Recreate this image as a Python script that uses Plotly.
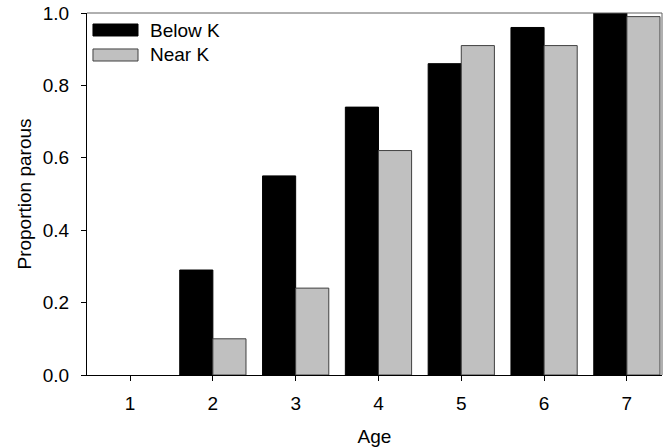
import plotly.graph_objects as go

ages = [1, 2, 3, 4, 5, 6, 7]
below_k = [0.0, 0.29, 0.55, 0.74, 0.86, 0.96, 1.0]
near_k = [0.0, 0.10, 0.24, 0.62, 0.91, 0.91, 0.99]
series_names = ["Below K", "Near K"]
y_ticks = [0.0, 0.2, 0.4, 0.6, 0.8, 1.0]

FONT = "Liberation Sans, Arial, sans-serif"
FS = 19

fig = go.Figure()
fig.add_trace(go.Bar(x=ages, y=below_k, name=series_names[0],
                     marker=dict(color="#000000",
                                 line=dict(color="#000000", width=[0 if v == 0 else 1 for v in below_k])),
                     showlegend=False))
fig.add_trace(go.Bar(x=ages, y=near_k, name=series_names[1],
                     marker=dict(color="#c0c0c0",
                                 line=dict(color="#404040", width=[0 if v == 0 else 1 for v in near_k])),
                     showlegend=False))

# manual legend (wide swatches)
swatches = [("#000000", "#000000", 0.9365, 0.9696, 0.953),
            ("#c0c0c0", "#404040", 0.8674, 0.9006, 0.884)]
for name, (fill, line, y0, y1, yc) in zip(series_names, swatches):
    fig.add_shape(type="rect", xref="paper", yref="paper",
                  x0=0.0104, x1=0.0887, y0=y0, y1=y1,
                  fillcolor=fill, line=dict(color=line, width=1))
    fig.add_annotation(xref="paper", yref="paper", x=0.1061, y=yc,
                       text=name, showarrow=False, xanchor="left", yanchor="middle",
                       font=dict(family=FONT, size=FS, color="#000000"))

# top and right frame lines (grey)
fig.add_shape(type="line", xref="paper", yref="paper", x0=0, x1=1, y0=1, y1=1,
              line=dict(color="#606060", width=1))
fig.add_shape(type="line", xref="paper", yref="paper", x0=1, x1=1, y0=0, y1=1,
              line=dict(color="#606060", width=1))

fig.update_layout(
    width=672, height=448,
    margin=dict(l=87, r=10, t=13, b=73),
    paper_bgcolor="white", plot_bgcolor="white",
    barmode="group", bargap=0.2, bargroupgap=0,
    font=dict(family=FONT, size=FS, color="#000000"),
    showlegend=False,
)
fig.update_xaxes(
    range=[0.48, 7.424], tickmode="array", tickvals=ages, ticktext=[str(a) for a in ages],
    ticks="outside", ticklen=5, tickcolor="#000000", ticklabelstandoff=6,
    tickfont=dict(family=FONT, size=FS),
    showline=True, linecolor="#000000", linewidth=1,
    showgrid=False, zeroline=False, automargin=False,
    title=dict(text="Age", standoff=16, font=dict(family=FONT, size=FS)),
)
fig.update_yaxes(
    range=[0, 1.0], tickmode="array", tickvals=y_ticks,
    ticktext=[f"{v:.1f}" for v in y_ticks],
    ticks="outside", ticklen=5, tickcolor="#000000", ticklabelstandoff=8,
    tickfont=dict(family=FONT, size=FS),
    showline=True, linecolor="#000000", linewidth=1,
    showgrid=False, zeroline=False, automargin=False,
    title=dict(text="Proportion parous", standoff=6, font=dict(family=FONT, size=FS)),
)

fig.write_html("out.html", config={"displayModeBar": False},
               post_script="document.body.style.margin='0';")
